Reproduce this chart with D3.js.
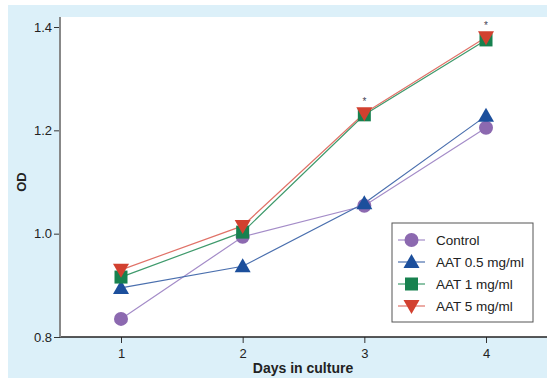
<!DOCTYPE html>
<html>
<head>
<meta charset="utf-8">
<script src="https://cdn.jsdelivr.net/npm/d3@7"></script>
<style>
  body { margin: 0; background: #fff; }
  text { font-family: "Liberation Sans", Arial, sans-serif; }
</style>
</head>
<body>
<svg id="chart"></svg>
<script>
// Data
const days = [1, 2, 3, 4];
const control = [0.835, 0.994, 1.054, 1.205];
const aat05 = [0.895, 0.937, 1.059, 1.228];
const aat1 = [0.916, 1.003, 1.230, 1.375];
const aat5 = [0.930, 1.015, 1.233, 1.380];
const yTicks = [0.8, 1.0, 1.2, 1.4];
const starDays = [3, 4];

const series = [
    {name: "Control", values: control, symbol: "circle", fill: "#8c69b0", line: "#a48cc8"},
    {name: "AAT 0.5 mg/ml", values: aat05, symbol: "up", fill: "#1c4f9c", line: "#4a6fae"},
    {name: "AAT 1 mg/ml", values: aat1, symbol: "square", fill: "#17814f", line: "#3f9a6c"},
    {name: "AAT 5 mg/ml", values: aat5, symbol: "down", fill: "#d2402f", line: "#e07268"}
];

const W = 547, H = 378;
const plot = {left: 60, top: 17, right: 547, bottom: 337};

const svg = d3.select("#chart").attr("width", W).attr("height", H);

// Backgrounds
svg.append("rect").attr("x", 8).attr("y", 5).attr("width", W - 8).attr("height", H - 5)
    .attr("fill", "#dcf0f9");
svg.append("rect").attr("x", plot.left).attr("y", plot.top)
    .attr("width", plot.right - plot.left).attr("height", plot.bottom - plot.top)
    .attr("fill", "#fff");

const x = d3.scaleLinear().domain([1, 4]).range([121, 486]);
const y = d3.scaleLinear().domain([0.8, 1.4]).range([337, 27]);

// Axes
const xAxis = svg.append("g")
    .attr("transform", `translate(0,${plot.bottom})`)
    .call(d3.axisBottom(x).tickValues(days).tickFormat(d3.format("d")).tickSize(6).tickSizeOuter(0));
xAxis.select(".domain").remove();
svg.append("line").attr("x1", plot.left).attr("x2", plot.right)
    .attr("y1", plot.bottom).attr("y2", plot.bottom)
    .attr("stroke", "#222").attr("stroke-width", 1.5);
xAxis.selectAll(".tick line").attr("stroke", "#333");
xAxis.selectAll(".tick text").attr("font-size", 13).attr("fill", "#222").attr("dy", "0.9em");

const yAxis = svg.append("g")
    .attr("transform", `translate(${plot.left},0)`)
    .call(d3.axisLeft(y).tickValues(yTicks).tickFormat(d3.format(".1f")).tickSize(6).tickSizeOuter(0));
yAxis.select(".domain").remove();
svg.append("line").attr("x1", plot.left).attr("x2", plot.left)
    .attr("y1", plot.top).attr("y2", plot.bottom)
    .attr("stroke", "#888").attr("stroke-width", 2);
yAxis.selectAll(".tick line").attr("stroke", "#333");
yAxis.selectAll(".tick text").attr("font-size", 13).attr("fill", "#222").attr("x", -8);

// Axis titles
svg.append("text").attr("x", 303).attr("y", 373).attr("text-anchor", "middle")
    .attr("font-size", 14).attr("font-weight", "bold").attr("fill", "#222")
    .text("Days in culture");
svg.append("text").attr("transform", "translate(26,182) rotate(-90)")
    .attr("text-anchor", "middle").attr("font-size", 13).attr("font-weight", "bold")
    .attr("fill", "#222").text("OD");

// Marker drawer
function marker(g, s, cx, cy) {
    if (s.symbol === "circle") {
        g.append("circle").attr("cx", cx).attr("cy", cy).attr("r", 7).attr("fill", s.fill);
    } else if (s.symbol === "square") {
        g.append("rect").attr("x", cx - 6.5).attr("y", cy - 6.5).attr("width", 13).attr("height", 13)
            .attr("fill", s.fill);
    } else if (s.symbol === "up") {
        g.append("path").attr("d", `M${cx - 8},${cy + 6}L${cx + 8},${cy + 6}L${cx},${cy - 8}Z`)
            .attr("fill", s.fill);
    } else {
        g.append("path").attr("d", `M${cx - 8},${cy - 6}L${cx + 8},${cy - 6}L${cx},${cy + 8}Z`)
            .attr("fill", s.fill);
    }
}

const line = d3.line().x((d, i) => x(days[i])).y(d => y(d));

// Lines
series.forEach(s => {
    svg.append("path").datum(s.values).attr("d", line)
        .attr("fill", "none").attr("stroke", s.line).attr("stroke-width", 1.2);
});

// Markers
series.forEach(s => {
    const g = svg.append("g");
    s.values.forEach((v, i) => marker(g, s, x(days[i]), y(v)));
});

// Significance asterisks
starDays.forEach(d => {
    const i = days.indexOf(d);
    svg.append("text").attr("x", x(d)).attr("y", y(aat5[i]) - 8)
        .attr("text-anchor", "middle").attr("font-size", 10).attr("fill", "#445")
        .text("*");
});

// Legend
const legend = svg.append("g").attr("transform", "translate(392,223)");
legend.append("rect").attr("width", 141).attr("height", 99)
    .attr("fill", "#fff").attr("stroke", "#555").attr("stroke-width", 1);
series.forEach((s, i) => {
    const ly = 17 + i * 22;
    legend.append("line").attr("x1", 6).attr("x2", 33).attr("y1", ly).attr("y2", ly)
        .attr("stroke", s.line).attr("stroke-width", 1.2);
    marker(legend, s, 19.5, ly);
    legend.append("text").attr("x", 44).attr("y", ly).attr("dy", "0.35em")
        .attr("font-size", 13.5).attr("fill", "#222").text(s.name);
});
</script>
</body>
</html>
